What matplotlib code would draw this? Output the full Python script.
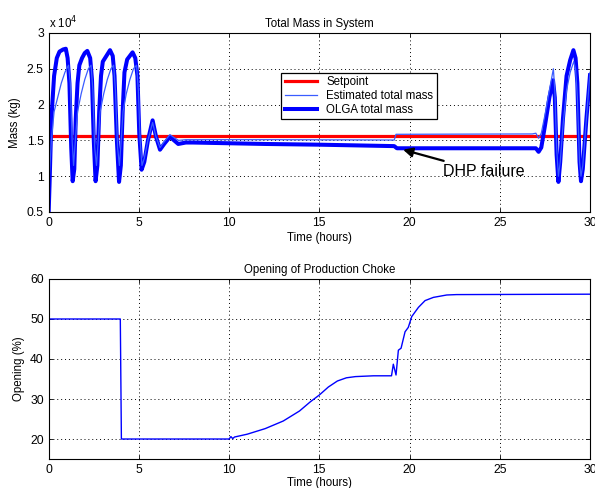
import numpy as np
import matplotlib
matplotlib.use("Agg")
import matplotlib.pyplot as plt

plt.rcParams['font.family'] = ['Liberation Sans', 'DejaVu Sans']

# --- Total mass in system (x 1e4 kg) ---
setpoint_mass = 1.56

olga_t = [0, 0.05, 0.15, 0.3, 0.45, 0.6, 0.8, 0.95, 1.05, 1.15, 1.25, 1.33,
          1.42, 1.5, 1.6, 1.7, 1.85, 2.0, 2.14, 2.3, 2.4, 2.5, 2.6,
          2.7, 2.8, 2.9, 3.0, 3.2, 3.4, 3.55, 3.65, 3.78, 3.9,
          4.0, 4.1, 4.2, 4.35, 4.5, 4.65, 4.8, 4.92, 5.02, 5.15,
          5.3, 5.5, 5.76, 5.95, 6.17, 6.4, 6.72, 6.95, 7.18, 7.6, 8, 10, 12, 15,
          19.15, 19.3, 27.0, 27.15, 27.3, 27.5, 27.75, 27.95, 28.05, 28.15, 28.25,
          28.35, 28.5, 28.7, 28.9, 29.08, 29.2, 29.3, 29.42, 29.5, 29.6, 29.8, 30]
olga_mass = [0.5, 0.9, 1.8, 2.4, 2.65, 2.74, 2.77, 2.78, 2.65, 2.3, 1.4, 0.93,
             1.1, 1.8, 2.3, 2.55, 2.65, 2.72, 2.75, 2.65, 2.35, 1.5, 0.93,
             1.15, 1.9, 2.4, 2.6, 2.68, 2.76, 2.68, 2.4, 1.5, 0.92,
             1.15, 1.9, 2.45, 2.63, 2.68, 2.73, 2.65, 2.4, 1.6, 1.09,
             1.2, 1.5, 1.78, 1.55, 1.37, 1.45, 1.55, 1.5, 1.45, 1.47, 1.47, 1.46, 1.45, 1.44,
             1.42, 1.39, 1.39, 1.34, 1.40, 1.7, 2.1, 2.34, 2.1, 1.3, 0.92,
             1.2, 1.8, 2.4, 2.62, 2.76, 2.65, 2.3, 1.2, 0.93, 1.1, 1.8, 2.41]

est_t = [0, 0.04, 0.15, 0.3, 0.5, 0.7, 0.9, 1.1, 1.2, 1.3, 1.38,
         1.48, 1.6, 1.8, 2.0, 2.2, 2.35, 2.45, 2.55, 2.65,
         2.75, 2.85, 3.05, 3.25, 3.45, 3.6, 3.7, 3.82, 3.92,
         4.02, 4.12, 4.3, 4.5, 4.7, 4.87, 4.97, 5.07, 5.17,
         5.3, 5.5, 5.76, 5.95, 6.17, 6.4, 6.72, 6.95, 7.2, 7.6, 8, 12, 19.15,
         19.25, 26.8, 27.0, 27.15, 27.3, 27.5, 27.75, 27.97, 28.05, 28.15, 28.25,
         28.35, 28.5, 28.7, 28.9, 29.1, 29.2, 29.3, 29.42, 29.5, 29.6, 29.8, 30]
est_mass = [1.8, 1.0, 1.5, 1.9, 2.1, 2.3, 2.45, 2.55, 2.3, 1.5, 1.15,
            1.5, 1.9, 2.15, 2.35, 2.5, 2.55, 2.2, 1.4, 1.15,
            1.5, 1.9, 2.15, 2.35, 2.5, 2.55, 2.2, 1.4, 1.15,
            1.5, 1.9, 2.15, 2.35, 2.5, 2.55, 2.2, 1.5, 1.15,
            1.25, 1.5, 1.75, 1.55, 1.4, 1.48, 1.58, 1.54, 1.5, 1.51, 1.51, 1.51, 1.505,
            1.585, 1.59, 1.6, 1.53, 1.6, 1.85, 2.2, 2.5, 2.2, 1.4, 1.0,
            1.2, 1.7, 2.2, 2.45, 2.6, 2.5, 2.1, 1.2, 1.0, 1.15, 1.8, 2.45]

# --- Production choke opening (%) ---
choke_t = [0, 0.02, 3.97, 4.03, 10.0, 10.1, 10.2, 10.3, 11, 12, 13, 13.9, 14.5,
           15, 15.5, 16, 16.5, 17, 18, 19.0, 19.1, 19.25, 19.38, 19.53, 19.75,
           19.93, 20.12, 20.49, 20.86, 21.32, 22.06, 22.6, 30]
choke_open = [20, 50, 50, 20, 20, 20.6, 20.1, 20.5, 21.2, 22.6, 24.5, 27, 29.3,
              31, 33, 34.5, 35.3, 35.6, 35.8, 35.8, 38.7, 36, 42.2, 42.7, 46.8,
              47.9, 50.6, 52.9, 54.6, 55.4, 56.0, 56.1, 56.2]

xticks = [0, 5, 10, 15, 20, 25, 30]
mass_ticks = [0.5, 1, 1.5, 2, 2.5, 3]
mass_labels = ['0.5', '1', '1.5', '2', '2.5', '3']
choke_ticks = [20, 30, 40, 50, 60]

fig = plt.figure(figsize=(5.95, 4.88), dpi=100)
ax1 = fig.add_axes([0.0818, 0.5656, 0.9098, 0.3668])
ax2 = fig.add_axes([0.0818, 0.0594, 0.9098, 0.3689])

LABEL_SIZE = 8.3


def style(ax):
    ax.grid(True, linestyle=(0, (1, 3)), color='black', linewidth=0.7)
    ax.tick_params(direction='in', top=True, right=True, labelsize=8.7,
                   length=3, width=0.6)
    for s in ax.spines.values():
        s.set_linewidth(0.8)


h_set, = ax1.plot([0, 30], [setpoint_mass, setpoint_mass], color='#ff0000',
                  lw=2.3)
h_olga, = ax1.plot(olga_t, olga_mass, color='#0000ff', lw=2.9)
h_est, = ax1.plot(est_t, est_mass, color='#3a5cff', lw=0.9)
ax1.set_xlim(0, 30)
ax1.set_ylim(0.5, 3)
ax1.set_xticks(xticks)
ax1.set_yticks(mass_ticks)
ax1.set_yticklabels(mass_labels)
ax1.set_title('Total Mass in System', fontsize=LABEL_SIZE, pad=4)
ax1.set_xlabel('Time (hours)', fontsize=LABEL_SIZE, labelpad=2)
ax1.set_ylabel('Mass (kg)', fontsize=LABEL_SIZE, labelpad=4)
ax1.text(0.0, 1.012, r'x 10$^4$', transform=ax1.transAxes, fontsize=8.3,
         ha='left', va='bottom')
style(ax1)
leg = ax1.legend([h_set, h_est, h_olga],
                 ['Setpoint', 'Estimated total mass', 'OLGA total mass'],
                 loc='upper left', bbox_to_anchor=(0.43, 0.778),
                 fontsize=LABEL_SIZE, fancybox=False, edgecolor='black',
                 framealpha=1, borderpad=0.3, labelspacing=0.15,
                 handlelength=2.8, borderaxespad=0)
leg.get_frame().set_linewidth(0.9)

ax1.annotate('DHP failure', xy=(19.64, 1.37), xytext=(21.85, 1.06),
             fontsize=11.5, va='center', ha='left',
             arrowprops=dict(arrowstyle='-|>', color='black', lw=1.6,
                             mutation_scale=14, shrinkA=2, shrinkB=0))

ax2.plot(choke_t, choke_open, color='#0000ff', lw=1.0)
ax2.set_xlim(0, 30)
ax2.set_ylim(15, 60)
ax2.set_xticks(xticks)
ax2.set_yticks(choke_ticks)
ax2.set_title('Opening of Production Choke', fontsize=LABEL_SIZE, pad=4)
ax2.set_xlabel('Time (hours)', fontsize=LABEL_SIZE, labelpad=1)
ax2.set_ylabel('Opening (%)', fontsize=LABEL_SIZE, labelpad=4)
style(ax2)

fig.savefig('out.png', dpi=100)
